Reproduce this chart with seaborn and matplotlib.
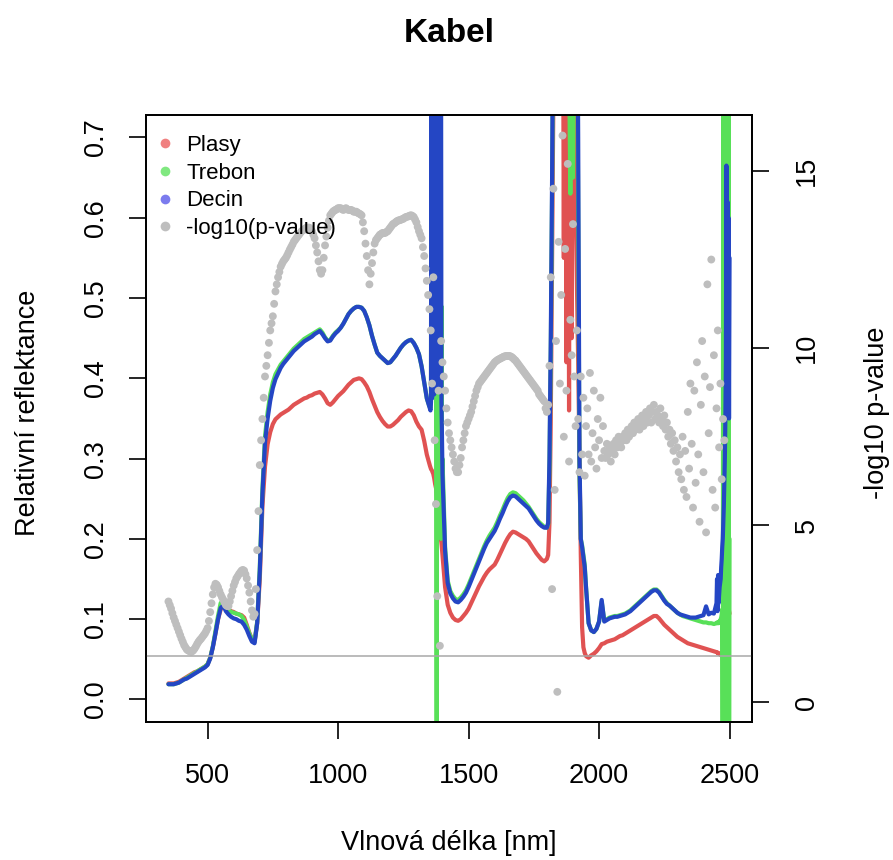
import numpy as np
import pandas as pd
import matplotlib
matplotlib.use("Agg")
import matplotlib.pyplot as plt
import seaborn as sns
from matplotlib.lines import Line2D

# ---------------- data ----------------
# wavelength grid of the reflectance spectra (nm): finer steps in the noisy water bands
wavelength = np.concatenate([
    np.arange(350, 1351, 10),   # A
    np.arange(1352, 1399, 2),   # B
    np.arange(1400, 1801, 10),  # C
    np.arange(1805, 1951, 5),   # D
    np.arange(1960, 2451, 10),  # E
    np.arange(2452, 2501, 2),   # F
])

plasy = [
    # A 350-1350
    0.020, 0.020, 0.020, 0.021, 0.022, 0.024, 0.026, 0.028, 0.030, 0.032,
    0.034, 0.035, 0.037, 0.039, 0.041, 0.044, 0.052, 0.065, 0.082, 0.100,
    0.112, 0.118, 0.114, 0.112, 0.110, 0.109, 0.107, 0.106, 0.105, 0.102,
    0.093, 0.083, 0.075, 0.072, 0.095, 0.150, 0.240, 0.290, 0.318, 0.333,
    0.343, 0.349, 0.352, 0.355, 0.357, 0.359, 0.361, 0.364, 0.367, 0.369,
    0.371, 0.373, 0.375, 0.376, 0.378, 0.379, 0.381, 0.382, 0.383, 0.380,
    0.375, 0.369, 0.367, 0.370, 0.374, 0.378, 0.381, 0.384, 0.388, 0.392,
    0.395, 0.398, 0.399, 0.400, 0.399, 0.395, 0.390, 0.383, 0.374, 0.366,
    0.358, 0.352, 0.347, 0.343, 0.340, 0.340, 0.342, 0.345, 0.348, 0.352,
    0.355, 0.358, 0.360, 0.359, 0.354, 0.346, 0.340, 0.336, 0.322, 0.305,
    0.293,
    # B 1352-1398
    0.291, 0.289, 0.287, 0.286, 0.285, 0.283, 0.282, 0.279, 0.276, 0.272,
    0.268, 0.265, 0.262, 0.256, 0.250, 0.243, 0.235, 0.228, 0.220, 0.213,
    0.205, 0.200, 0.195, 0.188,
    # C 1400-1800
    0.180, 0.140, 0.118, 0.108, 0.102, 0.099, 0.098, 0.100, 0.104, 0.108,
    0.113, 0.120, 0.127, 0.134, 0.141, 0.147, 0.153, 0.158, 0.162, 0.165,
    0.168, 0.174, 0.181, 0.188, 0.195, 0.201, 0.206, 0.209, 0.208, 0.206,
    0.204, 0.202, 0.200, 0.197, 0.192, 0.187, 0.182, 0.178, 0.174, 0.172,
    0.175,
    # D 1805-1950
    0.180, 0.220, 0.350, 0.550, 0.750, 0.950, 1.100, 1.100, 1.100, 1.100,
    1.100, 1.100, 0.550, 1.100, 0.420, 1.100, 0.360, 1.100, 0.450, 1.000,
    0.720, 0.620, 0.520, 0.420, 0.300, 0.180, 0.090, 0.065, 0.058, 0.054,
    # E 1960-2450
    0.052, 0.055, 0.057, 0.060, 0.064, 0.069, 0.070, 0.072, 0.073, 0.074,
    0.075, 0.077, 0.079, 0.080, 0.082, 0.084, 0.086, 0.088, 0.090, 0.092,
    0.094, 0.096, 0.098, 0.100, 0.102, 0.104, 0.104, 0.101, 0.097, 0.093,
    0.090, 0.087, 0.084, 0.081, 0.078, 0.076, 0.074, 0.072, 0.070, 0.069,
    0.068, 0.067, 0.066, 0.065, 0.064, 0.063, 0.062, 0.061, 0.060, 0.059,
    # F 2452-2500
    0.059, 0.058, 0.058, 0.057, 0.057, 0.057, 0.056, 0.056, 0.055, 0.056,
    0.058, 0.062, 0.068, 0.075, 0.085, 0.095, 0.105, 0.118, 0.130, 0.143,
    0.140, 0.125, 0.115, 0.110, 0.107,
]

trebon = [
    # A
    0.019, 0.019, 0.019, 0.020, 0.021, 0.023, 0.025, 0.027, 0.029, 0.031,
    0.033, 0.035, 0.037, 0.039, 0.041, 0.044, 0.052, 0.066, 0.085, 0.104,
    0.120, 0.124, 0.116, 0.112, 0.109, 0.108, 0.107, 0.106, 0.104, 0.099,
    0.091, 0.082, 0.075, 0.072, 0.097, 0.165, 0.262, 0.328, 0.358, 0.380,
    0.395, 0.405, 0.411, 0.417, 0.421, 0.425, 0.429, 0.433, 0.437, 0.440,
    0.443, 0.446, 0.449, 0.451, 0.453, 0.455, 0.457, 0.459, 0.461, 0.457,
    0.451, 0.447, 0.448, 0.453, 0.457, 0.460, 0.463, 0.468, 0.474, 0.480,
    0.484, 0.487, 0.489, 0.489, 0.488, 0.484, 0.476, 0.466, 0.453, 0.442,
    0.432, 0.428, 0.425, 0.422, 0.419, 0.420, 0.424, 0.428, 0.433, 0.438,
    0.442, 0.445, 0.447, 0.448, 0.444, 0.438, 0.430, 0.415, 0.395, 0.375,
    0.365,
    # B
    0.365, 0.362, 0.372, 0.950, 0.378, 0.950, 0.383, 0.950, 0.388, 0.950,
    0.392, 0.950, 0.400, -0.200, 1.100, 0.440, 0.470, 0.300, 0.440, 0.250,
    0.480, 0.200, 0.490, 0.210,
    # C
    0.300, 0.190, 0.148, 0.135, 0.129, 0.125, 0.124, 0.127, 0.131, 0.136,
    0.143, 0.151, 0.159, 0.167, 0.175, 0.183, 0.191, 0.198, 0.204, 0.209,
    0.214, 0.221, 0.229, 0.236, 0.244, 0.251, 0.256, 0.258, 0.257, 0.254,
    0.251, 0.248, 0.244, 0.240, 0.235, 0.230, 0.225, 0.221, 0.218, 0.215,
    0.214,
    # D
    0.218, 0.290, 0.430, 0.630, 0.870, 1.100, 1.100, 1.100, 1.100, 1.100,
    1.100, 1.100, 1.100, 1.100, 1.100, 1.100, 0.800, 0.630, 0.950, 0.650,
    1.100, 1.100, 0.950, 0.600, 0.280, 0.200, 0.192, 0.180, 0.168, 0.140,
    # E
    0.095, 0.086, 0.084, 0.088, 0.097, 0.122, 0.098, 0.100, 0.102, 0.103,
    0.104, 0.104, 0.105, 0.106, 0.107, 0.109, 0.111, 0.114, 0.117, 0.120,
    0.123, 0.126, 0.129, 0.132, 0.135, 0.137, 0.137, 0.134, 0.129, 0.124,
    0.120, 0.117, 0.114, 0.111, 0.108, 0.106, 0.104, 0.103, 0.102, 0.101,
    0.100, 0.099, 0.098, 0.097, 0.096, 0.096, 0.095, 0.095, 0.094, 0.095,
    # F
    0.096, 0.095, 0.096, 0.095, 0.096, 0.098, 0.097, 0.100, 0.102, 0.106,
    0.112, -0.200, 1.100, -0.200, 1.100, -0.200, 1.100, -0.200, 1.100, -0.200,
    1.100, -0.200, 1.100, -0.200, 0.200,
]

decin = [
    # A
    0.019, 0.019, 0.019, 0.020, 0.021, 0.023, 0.025, 0.026, 0.028, 0.030,
    0.032, 0.034, 0.036, 0.038, 0.040, 0.043, 0.051, 0.065, 0.082, 0.100,
    0.114, 0.117, 0.110, 0.106, 0.103, 0.101, 0.100, 0.098, 0.097, 0.093,
    0.087, 0.079, 0.072, 0.070, 0.095, 0.160, 0.255, 0.320, 0.350, 0.372,
    0.388, 0.399, 0.406, 0.413, 0.418, 0.422, 0.426, 0.430, 0.434, 0.437,
    0.440, 0.443, 0.446, 0.448, 0.450, 0.452, 0.455, 0.457, 0.459, 0.455,
    0.450, 0.446, 0.447, 0.452, 0.456, 0.459, 0.463, 0.468, 0.474, 0.480,
    0.484, 0.487, 0.489, 0.489, 0.488, 0.484, 0.476, 0.466, 0.453, 0.442,
    0.432, 0.428, 0.425, 0.422, 0.419, 0.420, 0.424, 0.428, 0.433, 0.438,
    0.442, 0.445, 0.447, 0.448, 0.444, 0.438, 0.430, 0.415, 0.395, 0.375,
    0.364,
    # B
    0.362, 0.360, 0.370, 1.100, 0.375, 1.100, 0.380, 1.100, 0.380, 1.100,
    0.385, 1.100, 0.390, 1.100, 0.390, 1.100, 0.390, 1.100, 0.390, 1.100,
    0.390, 1.000, 0.370, 0.330,
    # C
    0.280, 0.185, 0.145, 0.132, 0.126, 0.122, 0.121, 0.124, 0.128, 0.133,
    0.140, 0.148, 0.156, 0.164, 0.172, 0.180, 0.188, 0.195, 0.200, 0.205,
    0.210, 0.217, 0.225, 0.232, 0.240, 0.247, 0.252, 0.254, 0.253, 0.250,
    0.247, 0.244, 0.241, 0.238, 0.233, 0.228, 0.223, 0.219, 0.216, 0.214,
    0.214,
    # D
    0.220, 0.300, 0.450, 0.650, 0.900, 1.100, 1.100, 1.100, 1.100, 1.100,
    1.100, 1.100, 1.100, 1.100, 1.100, 1.100, 1.100, 1.100, 1.100, 1.100,
    1.100, 1.100, 1.000, 0.700, 0.300, 0.200, 0.190, 0.178, 0.165, 0.140,
    # E
    0.095, 0.086, 0.084, 0.088, 0.097, 0.124, 0.097, 0.099, 0.101, 0.102,
    0.103, 0.103, 0.104, 0.105, 0.106, 0.108, 0.110, 0.113, 0.116, 0.119,
    0.122, 0.125, 0.128, 0.131, 0.134, 0.136, 0.136, 0.133, 0.128, 0.123,
    0.119, 0.117, 0.114, 0.111, 0.108, 0.106, 0.105, 0.104, 0.103, 0.102,
    0.102, 0.102, 0.103, 0.104, 0.105, 0.116, 0.106, 0.108, 0.107, 0.120,
    # F
    0.150, 0.110, 0.155, 0.120, 0.130, 0.140, 0.145, 0.150, 0.165, 0.175,
    0.190, 0.200, 0.220, 0.240, 0.270, 0.300, 0.350, 0.420, 0.665, 0.400,
    0.620, 0.370, 0.600, 0.350, 0.550,
]

# -log10(p-value) points, 5 nm steps
p_wavelength = np.arange(350, 2481, 5)
neg_log10_p = [
    # 350-1350
    2.85, 2.75, 2.65, 2.52, 2.40, 2.30, 2.20, 2.10, 2.00, 1.90,
    1.80, 1.71, 1.62, 1.56, 1.50, 1.47, 1.45, 1.44, 1.44, 1.47,
    1.52, 1.58, 1.65, 1.71, 1.76, 1.80, 1.85, 1.90, 1.95, 2.02,
    2.10, 2.30, 2.55, 2.80, 3.05, 3.25, 3.35, 3.32, 3.25, 3.15,
    3.05, 2.97, 2.90, 2.82, 2.75, 2.72, 2.72, 2.85, 3.00, 3.15,
    3.30, 3.40, 3.50, 3.56, 3.62, 3.67, 3.72, 3.74, 3.72, 3.62,
    3.50, 3.30, 3.10, 2.85, 2.60, 2.42, 2.50, 3.20, 4.30, 5.40,
    6.70, 7.40, 8.00, 8.60, 9.20, 9.50, 9.80, 10.15, 10.50, 10.70,
    10.90, 11.25, 11.60, 11.80, 12.00, 12.15, 12.30, 12.38, 12.45, 12.50,
    12.55, 12.62, 12.70, 12.78, 12.85, 12.92, 13.00, 13.05, 13.10, 13.15,
    13.20, 13.25, 13.30, 13.32, 13.35, 13.38, 13.40, 13.40, 13.40, 13.35,
    13.30, 13.20, 13.10, 12.90, 12.70, 12.45, 12.20, 12.10, 12.20, 12.55,
    12.90, 13.15, 13.40, 13.60, 13.75, 13.80, 13.85, 13.88, 13.90, 13.92,
    13.95, 13.95, 13.95, 13.92, 13.90, 13.92, 13.95, 13.92, 13.90, 13.90,
    13.90, 13.88, 13.85, 13.85, 13.85, 13.82, 13.80, 13.78, 13.75, 13.55,
    13.30, 12.95, 12.60, 12.20, 11.80, 12.10, 12.40, 12.70, 12.95, 13.05,
    13.10, 13.15, 13.20, 13.22, 13.25, 13.25, 13.25, 13.28, 13.30, 13.35,
    13.40, 13.45, 13.50, 13.52, 13.55, 13.58, 13.60, 13.61, 13.62, 13.64,
    13.65, 13.68, 13.70, 13.71, 13.72, 13.74, 13.75, 13.73, 13.70, 13.63,
    13.55, 13.42, 13.30, 13.20, 13.10, 12.85, 12.60, 12.25, 11.90, 11.50,
    11.10,
    # 1355-2480
    10.5, 9.0, 12.0, 7.4, 5.6, 3.0, 8.8, 1.6, 10.2, 9.6,
    9.2, 8.8, 8.3, 7.9, 7.6, 7.4, 7.2, 7.0, 6.8, 6.6,
    6.5, 6.5, 6.7, 6.9, 7.2, 7.4, 7.6, 7.8, 7.9, 8.0,
    8.1, 8.2, 8.35, 8.5, 8.65, 8.8, 8.9, 9.0, 9.05, 9.1,
    9.15, 9.2, 9.25, 9.3, 9.35, 9.4, 9.45, 9.5, 9.55, 9.6,
    9.63, 9.66, 9.68, 9.7, 9.72, 9.74, 9.76, 9.77, 9.78, 9.78,
    9.78, 9.77, 9.75, 9.72, 9.68, 9.65, 9.6, 9.55, 9.5, 9.45,
    9.4, 9.35, 9.3, 9.25, 9.2, 9.15, 9.1, 9.05, 9.0, 8.95,
    8.9, 8.85, 8.8, 8.7, 8.65, 8.6, 8.55, 8.5, 8.3, 8.2,
    8.4, 9.5, 12.0, 3.2, 14.5, 6.0, 10.2, 0.3, 13.0, 9.0,
    11.5, 16.0, 7.5, 12.8, 8.8, 15.2, 6.8, 10.8, 9.8, 13.5,
    9.2, 7.8, 10.5, 8.0, 6.5, 9.2, 7.0, 8.6, 6.4, 7.8,
    8.3, 7.0, 9.3, 6.8, 7.6, 8.8, 7.2, 6.6, 8.0, 7.4,
    8.6, 6.9, 7.8, 7.1, 6.9, 7.3, 7.0, 7.2, 6.8, 7.1,
    7.3, 7.0, 7.4, 7.2, 7.5, 7.3, 7.2, 7.5, 7.4, 7.6,
    7.4, 7.7, 7.5, 7.6, 7.8, 7.6, 7.9, 7.7, 7.8, 8.0,
    7.7, 7.9, 8.1, 7.8, 8.0, 8.2, 7.9, 8.1, 8.3, 7.9,
    8.2, 8.4, 8.0, 8.2, 8.1, 7.9, 8.3, 8.0, 7.8, 8.1,
    7.7, 7.9, 7.5, 7.7, 7.3, 7.6, 7.1, 7.4, 6.8, 7.2,
    6.5, 7.0, 6.3, 7.5, 6.0, 7.1, 5.8, 8.2, 6.6, 9.0,
    7.3, 5.5, 8.8, 6.2, 9.6, 7.0, 5.1, 8.4, 10.2, 6.5,
    9.2, 4.8, 11.8, 7.6, 8.9, 12.5, 6.0, 9.8, 5.5, 8.3,
    10.5, 7.2, 9.0, 6.3, 8.0, 7.4,
]

series_names = ["Plasy", "Trebon", "Decin"]
line_colors = ["#E05252", "#58E058", "#2446C4"]
legend_labels = ["Plasy", "Trebon", "Decin", "-log10(p-value)"]
legend_colors = ["#F08080", "#80E880", "#7B7BEE", "#BEBEBE"]
x_ticks = [500, 1000, 1500, 2000, 2500]
y_ticks = [0.0, 0.1, 0.2, 0.3, 0.4, 0.5, 0.6, 0.7]
p_ticks = [0, 5, 10, 15]
p_threshold = 0.05

refl = pd.DataFrame({"wl": wavelength, "Plasy": plasy, "Trebon": trebon, "Decin": decin})
pdf = pd.DataFrame({"wl": p_wavelength, "p": neg_log10_p})

# ---------------- plot ----------------
sns.set_theme(style="ticks")
plt.rcParams["font.family"] = ["Liberation Sans", "DejaVu Sans"]
plt.rcParams["text.color"] = "black"
plt.rcParams["axes.labelcolor"] = "black"
plt.rcParams["xtick.color"] = "black"
plt.rcParams["ytick.color"] = "black"

fig = plt.figure(figsize=(8.93, 8.60), dpi=100)
ax = fig.add_axes([0.1635, 0.1605, 0.6786, 0.7058])

for name, col in zip(series_names, line_colors):
    sns.lineplot(data=refl, x="wl", y=name, ax=ax, color=col, linewidth=3,
                 estimator=None, sort=False, legend=False)

ax2 = ax.twinx()
sns.scatterplot(data=pdf, x="wl", y="p", ax=ax2, color="#BEBEBE", s=32,
                edgecolor="none", linewidth=0, legend=False)
ax2.axhline(-np.log10(p_threshold), color="#A8A8A8", lw=1.1)

ax.set_xlim(264, 2586)
ax.set_ylim(-0.028, 0.728)
ax2.set_ylim(-0.55, 16.58)

FS = 19.5
ax.set_xticks(x_ticks)
ax.set_xticklabels([str(t) for t in x_ticks])
ax.set_yticks(y_ticks)
ax.set_yticklabels([f"{t:.1f}" for t in y_ticks])
ax2.set_yticks(p_ticks)
ax2.set_yticklabels([str(t) for t in p_ticks])

for a in (ax, ax2):
    a.tick_params(direction="out", length=12.5, width=1.2, colors="black",
                  labelsize=FS, labelcolor="black")
    for s in a.spines.values():
        s.set_color("black")
        s.set_linewidth(1.3)
ax.tick_params(axis="x", pad=17)
ax.tick_params(axis="y", pad=14)
ax2.tick_params(axis="y", pad=18)
for lab in ax.get_yticklabels():
    lab.set_rotation(90)
    lab.set_va("center")
for lab in ax2.get_yticklabels():
    lab.set_rotation(90)
    lab.set_va("center")

ax.set_xlabel("Vlnová délka [nm]", fontsize=FS, color="black")
ax.set_ylabel("Relativní reflektance", fontsize=FS, color="black")
ax2.set_ylabel("-log10 p-value", fontsize=FS, color="black")
ax.xaxis.label.set_va("center")
ax.xaxis.set_label_coords(0.5, -0.199)
ax.yaxis.label.set_va("center")
ax.yaxis.set_label_coords(-0.1947, 0.51)
ax2.yaxis.label.set_va("center")
ax2.yaxis.set_label_coords(1.206, 0.51)

ax.set_title("Kabel", fontsize=24, fontweight="bold", y=1.12, va="center", color="black")

handles = [Line2D([], [], marker="o", ls="", color=c, markersize=7, markeredgewidth=0)
           for c in legend_colors]
ax2.legend(handles, legend_labels, loc="upper left", bbox_to_anchor=(0.0165, 0.967),
           frameon=False, fontsize=16, borderaxespad=0, borderpad=0,
           handlelength=0.8, handletextpad=0.55, labelspacing=0.3)

fig.savefig("out.png", dpi=100, facecolor="white")
